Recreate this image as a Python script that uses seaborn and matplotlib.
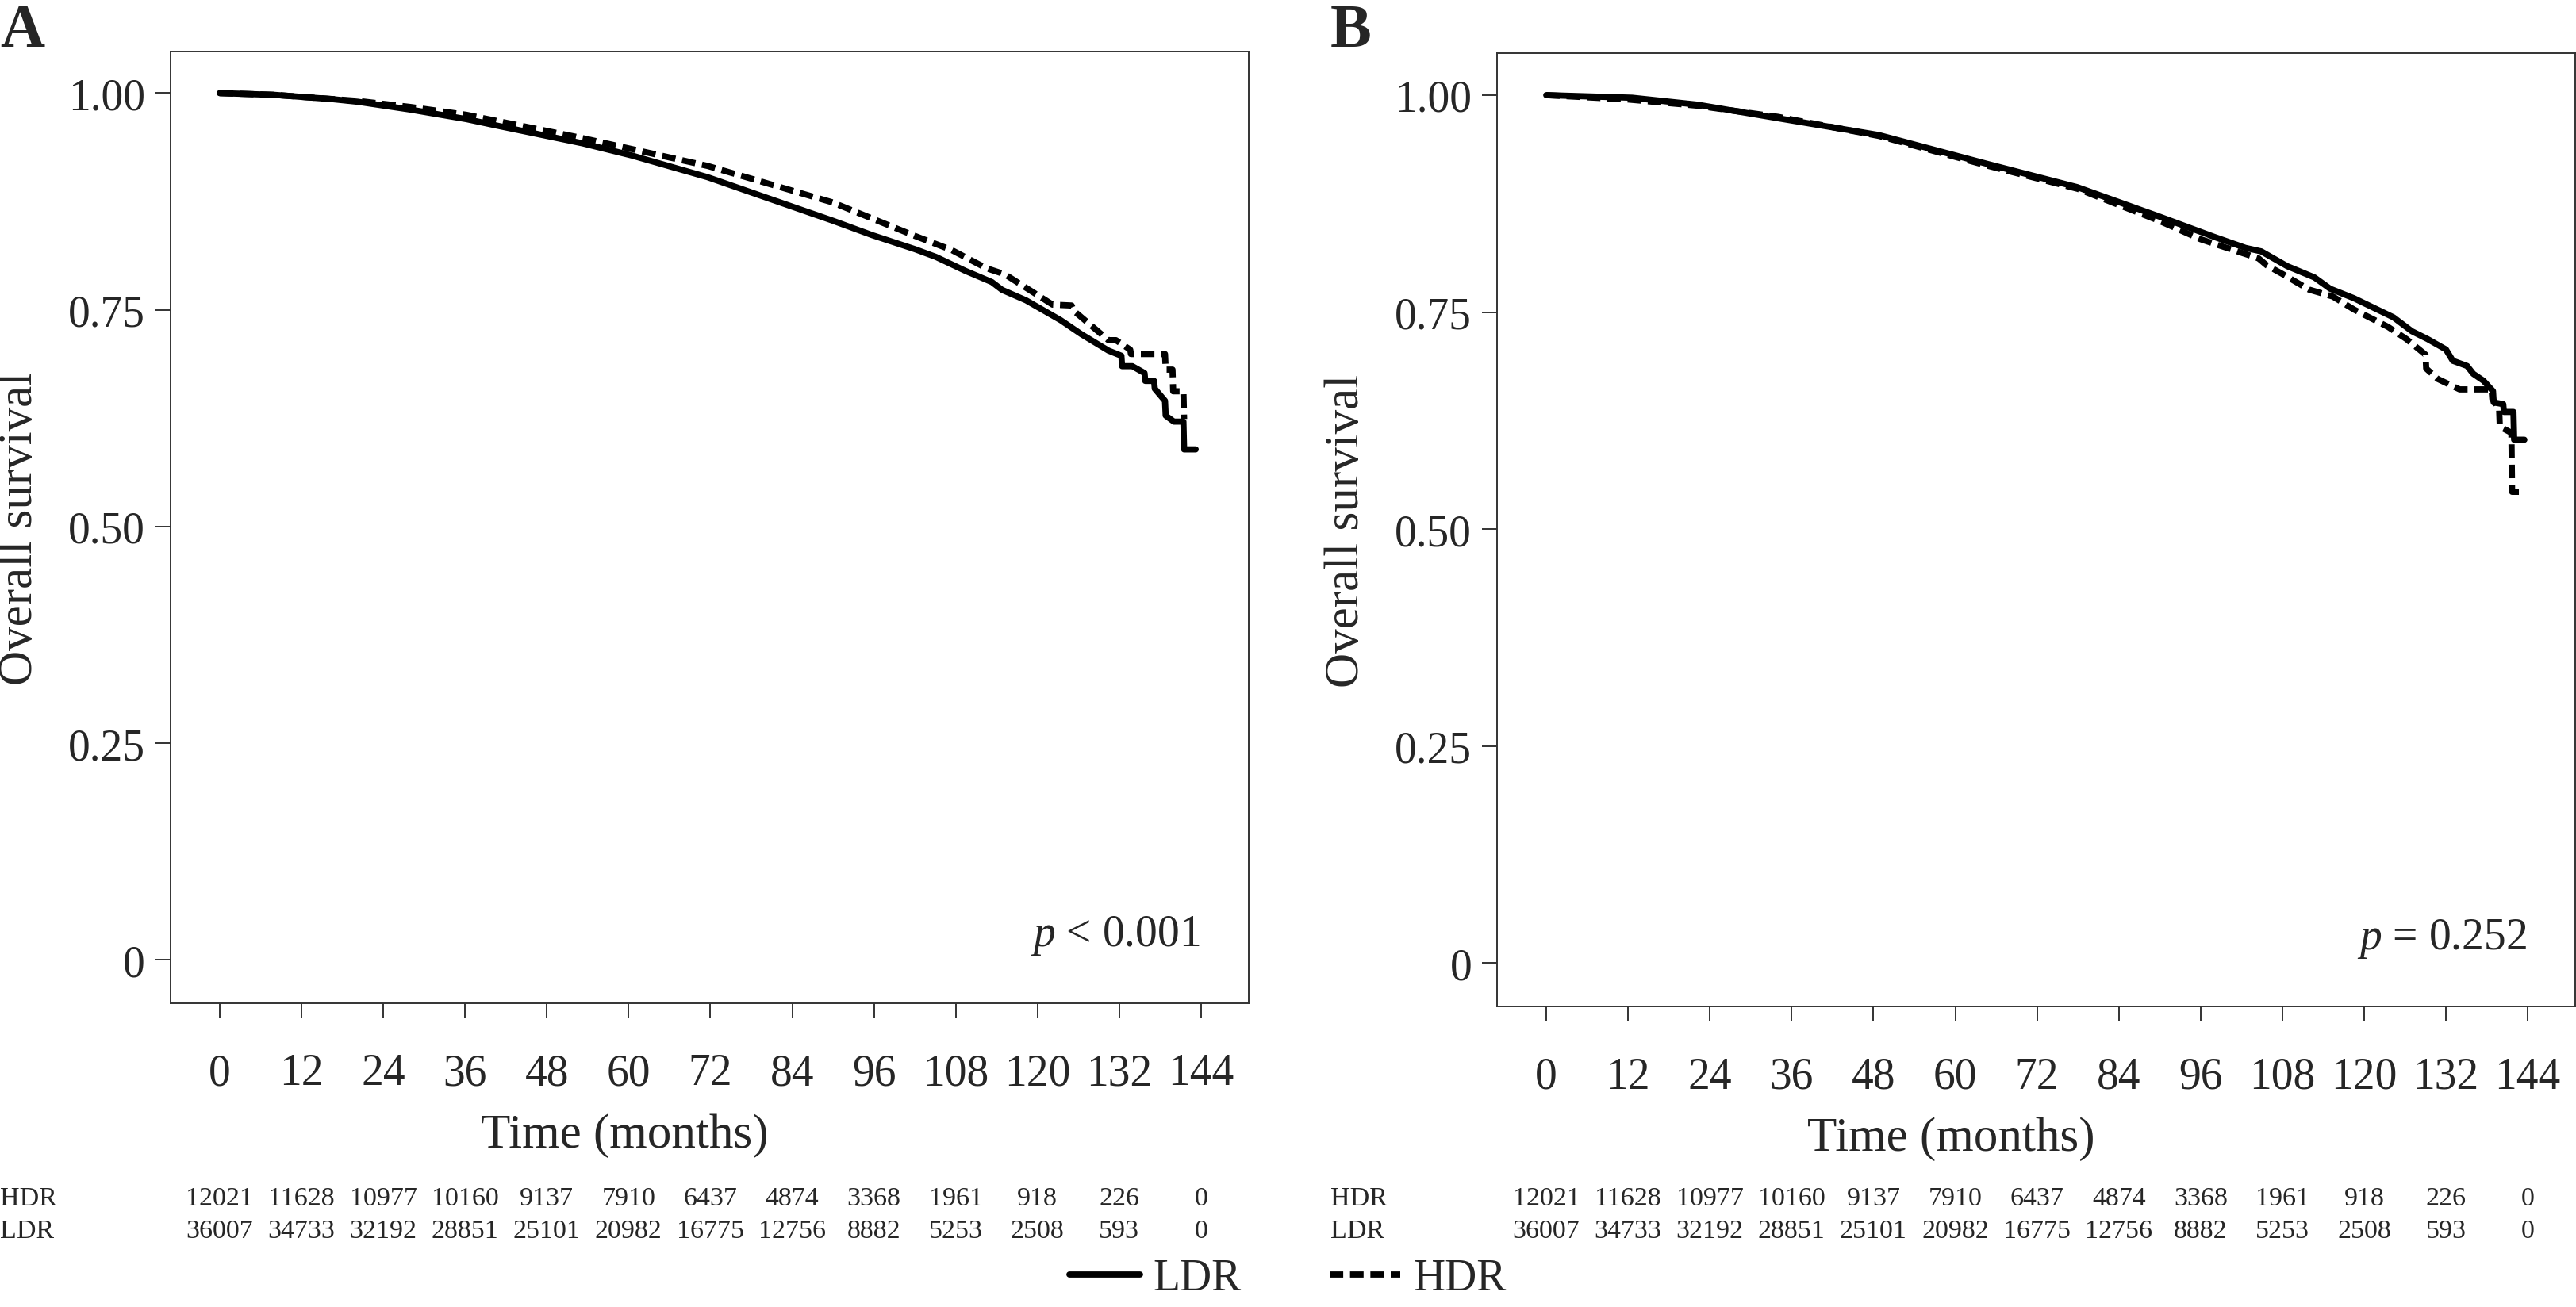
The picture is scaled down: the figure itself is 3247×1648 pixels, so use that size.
#%% Biblioteke
import matplotlib
matplotlib.use('Agg')
import numpy as np
import pandas as pd
import matplotlib.pyplot as plt
import matplotlib.transforms as mtransforms
import seaborn as sns

#%% Podaci ocitani sa slike (Kaplan-Meier krive)
# Panel A
a_ldr_t = [0, 8, 16.6, 20.3, 28, 36.2, 41, 53.3, 60.5, 71.6, 80, 89.9, 95.8, 102, 105.1,
           109.4, 113.3, 114.8, 118.3, 123.4, 126.4, 130.4, 132.3, 132.4, 133.9, 135.7,
           135.8, 137.1, 137.2, 138.7, 138.8, 140, 141.4, 141.5, 143.2]
a_ldr_s = [1.0, 0.998, 0.993, 0.990, 0.981, 0.970, 0.962, 0.942, 0.928, 0.903, 0.880, 0.853,
           0.836, 0.820, 0.811, 0.795, 0.782, 0.773, 0.761, 0.738, 0.722, 0.703, 0.697, 0.685,
           0.685, 0.677, 0.668, 0.668, 0.659, 0.645, 0.628, 0.621, 0.621, 0.589, 0.589]
a_hdr_t = [0, 8, 20.3, 28, 36.2, 53.3, 71.6, 89.9, 102.1, 107.4, 112.5, 115.2, 122.2, 125,
           125.3, 130.4, 131.5, 133.6, 133.7, 138.7, 138.8, 139.8, 139.9, 141.4, 141.5]
a_hdr_s = [1.0, 0.998, 0.991, 0.984, 0.975, 0.948, 0.916, 0.874, 0.835, 0.819, 0.798, 0.791,
           0.756, 0.755, 0.749, 0.715, 0.715, 0.704, 0.699, 0.699, 0.681, 0.681, 0.656, 0.656,
           0.624]

# Panel B
b_ldr_t = [0, 12.6, 22.2, 34.3, 48.8, 64.6, 77.9, 90, 97.9, 102.6, 104.9, 108.7, 112.7, 115,
           118.5, 124.3, 127, 129.3, 132, 133, 135.1, 136, 137.5, 138.9, 139, 140.4, 140.5,
           141.9, 142, 143.5]
b_ldr_s = [1.0, 0.997, 0.989, 0.973, 0.954, 0.921, 0.894, 0.860, 0.837, 0.824, 0.820, 0.803,
           0.790, 0.777, 0.766, 0.744, 0.728, 0.719, 0.707, 0.694, 0.688, 0.679, 0.671, 0.659,
           0.646, 0.644, 0.635, 0.635, 0.603, 0.603]
b_hdr_t = [0, 12, 22, 34, 48.8, 64.6, 78, 90, 96, 104.5, 105.7, 108, 111.9, 115.4, 118.5,
           123.5, 126.2, 129, 129.1, 130.8, 134, 138.7, 138.8, 139.8, 139.9, 141.6, 141.7, 143]
b_hdr_s = [1.0, 0.995, 0.988, 0.975, 0.953, 0.919, 0.892, 0.855, 0.834, 0.812, 0.804, 0.794,
           0.776, 0.768, 0.753, 0.733, 0.719, 0.701, 0.685, 0.673, 0.661, 0.661, 0.650, 0.639,
           0.618, 0.611, 0.543, 0.543]

# Broj pacijenata pod rizikom
risk_ticks = [0, 12, 24, 36, 48, 60, 72, 84, 96, 108, 120, 132, 144]
hdr_risk = [12021, 11628, 10977, 10160, 9137, 7910, 6437, 4874, 3368, 1961, 918, 226, 0]
ldr_risk = [36007, 34733, 32192, 28851, 25101, 20982, 16775, 12756, 8882, 5253, 2508, 593, 0]

y_ticks = [0, 0.25, 0.5, 0.75, 1.0]
y_ticklabels = ['0', '0.25', '0.50', '0.75', '1.00']
p_texts = [r'$p$ < 0.001', r'$p$ = 0.252']
panel_letters = ['A', 'B']

#%% Stil
sns.set_style('white')
plt.rcParams['font.family'] = ['Liberation Serif', 'DejaVu Serif']
plt.rcParams['mathtext.fontset'] = 'custom'
plt.rcParams['mathtext.rm'] = 'Liberation Serif'
plt.rcParams['mathtext.it'] = 'Liberation Serif:italic'

FS_TICK = 40
FS_LABEL = 44
FS_RISK = 24.5
LW = 5.6
spine_col = '#333333'

fig = plt.figure(figsize=(32.47, 16.49), dpi=100)
axA = fig.add_axes([0.0662, 0.2323, 0.4186, 0.7277])
axB = fig.add_axes([0.5812, 0.2298, 0.4186, 0.7287])

panels = [
    (axA, a_ldr_t, a_ldr_s, a_hdr_t, a_hdr_s, 0.0),
    (axB, b_ldr_t, b_ldr_s, b_hdr_t, b_hdr_s, 1677 / 3247),
]

for i, (ax, lt, ls, ht, hs, x_lab) in enumerate(panels):
    df = pd.concat([
        pd.DataFrame({'time': lt, 'surv': ls, 'group': 'LDR'}),
        pd.DataFrame({'time': ht, 'surv': hs, 'group': 'HDR'}),
    ], ignore_index=True)
    sns.lineplot(data=df, x='time', y='surv', hue='group', style='group',
                 hue_order=['LDR', 'HDR'], style_order=['LDR', 'HDR'],
                 palette={'LDR': 'black', 'HDR': 'black'},
                 dashes={'LDR': '', 'HDR': (2.2, 1.1)},
                 estimator=None, sort=False, lw=LW, ax=ax)
    handles, labels = ax.get_legend_handles_labels()
    ax.get_legend().remove()

    ax.set_xlim(-7.2, 151)
    ax.set_ylim(-0.05, 1.048)
    ax.set_xticks(risk_ticks)
    ax.set_xticklabels([str(t) for t in risk_ticks])
    ax.set_yticks(y_ticks)
    ax.set_yticklabels(y_ticklabels)
    ax.tick_params(axis='both', labelsize=FS_TICK, length=14, width=1.4, color=spine_col,
                   direction='out', left=True, bottom=True)
    ax.tick_params(axis='x', pad=31)
    ax.tick_params(axis='y', pad=9)
    for sp in ax.spines.values():
        sp.set_color(spine_col)
        sp.set_linewidth(1.4)
    ax.set_xlabel('Time (months)', fontsize=FS_LABEL, labelpad=8)
    ax.xaxis.set_label_coords(0.421, -0.115)
    ax.xaxis.label.set_va('top')
    ax.set_ylabel('Overall survival', fontsize=FS_LABEL, labelpad=24)

    ax.text(143.8, 0.017, p_texts[i], ha='right', va='baseline', fontsize=FS_TICK)

    # tabela broja pod rizikom
    trans = mtransforms.blended_transform_factory(ax.transData, fig.transFigure)
    for t, h, l in zip(risk_ticks, hdr_risk, ldr_risk):
        ax.text(t, 0.0831, str(h), transform=trans, ha='center', va='center', fontsize=FS_RISK)
        ax.text(t, 0.0582, str(l), transform=trans, ha='center', va='center', fontsize=FS_RISK)
    fig.text(x_lab, 0.0831, 'HDR', ha='left', va='center', fontsize=FS_RISK)
    fig.text(x_lab, 0.0582, 'LDR', ha='left', va='center', fontsize=FS_RISK)

    fig.text(x_lab, 0.997, panel_letters[i], ha='left', va='top', fontsize=56, fontweight='bold')

fig.legend(handles, labels, loc='lower center', bbox_to_anchor=(0.5, -0.011), ncol=2,
           frameon=False, fontsize=FS_TICK, handlelength=1.6, handletextpad=0.3,
           columnspacing=2.0, borderpad=0)

fig.savefig('out.png', dpi=100)
